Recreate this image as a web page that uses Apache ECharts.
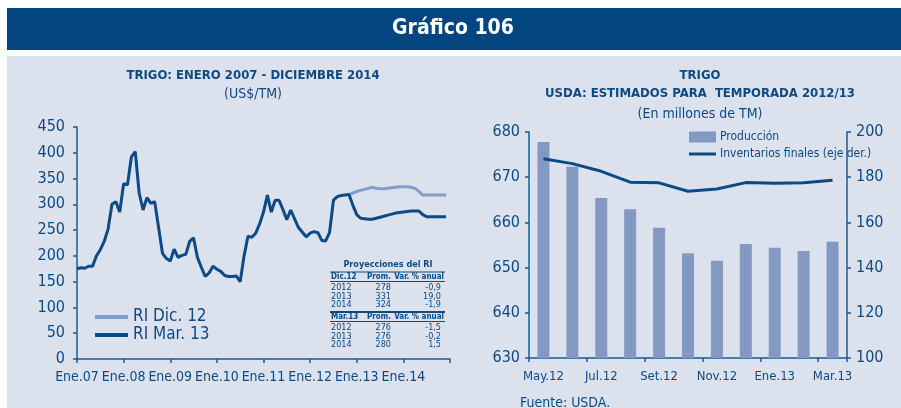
<!DOCTYPE html>
<html><head><meta charset="utf-8">
<script src="https://cdn.jsdelivr.net/npm/echarts@6/dist/echarts.min.js"></script>
<style>html,body{margin:0;padding:0;background:#fff}#c{width:901px;height:408px}</style>
</head><body><div id="c"></div>
<script>
// ---- Wheat price, monthly (index 0 = Ene.07), US$/TM ----
const yearTickLabels = ['Ene.07','Ene.08','Ene.09','Ene.10','Ene.11','Ene.12','Ene.13','Ene.14',''];
const priceHistory = [175,177,176,180,180,200,212,228,252,300,305,285,340,338,392,402,322,289,313,302,305,255,205,195,
  190,213,197,201,203,228,235,197,178,160,167,180,174,170,162,160,160,161,150,200,238,236,244,262,
  285,318,285,308,308,290,270,289,272,255,246,237,244,247,245,230,229,245,308,315,317,318,319];
const projStart = 70; // Nov.12
const projDic12 = [319,322,325,327,329,331,333,331,330,330,331,332,333,334,334,334,333,331,325,318,318,318,318,318,318,318];
const projMar13 = [319,298,280,273,272,271,271,273,275,277,279,281,283,284,285,286,287,287,287,280,276,276,276,276,276,276];

// Projection summary table
const tableDic12 = [['2012','278','-0,9'],['2013','331','19,0'],['2014','324','-1,9']];
const tableMar13 = [['2012','276','-1,5'],['2013','276','-0,2'],['2014','280','1,5']];

// ---- USDA 2012/13 estimates ----
const usdaMonths = ['May.12','Jun.12','Jul.12','Ago.12','Set.12','Oct.12','Nov.12','Dic.12','Ene.13','Feb.13','Mar.13'];
const production = [677.8,672.3,665.4,662.9,658.8,653.2,651.5,655.2,654.4,653.7,655.7];
const endingStocks = [188.2,186.0,182.6,177.8,177.5,173.8,174.8,177.6,177.3,177.5,178.7];

const DARK = '#0B4A84';
const LIGHT = '#809DCB';
const BAR = '#8399C2';
const TXT = '#0D4A82';
const BG = '#DCE1EE';
const FONT = '"DejaVu Sans Condensed","Liberation Sans Narrow","Liberation Sans",sans-serif';

const dicData = projDic12.map((v, i) => [projStart + i, v]);
const marData = priceHistory.map((v, i) => [i, v])
  .concat(projMar13.slice(1).map((v, i) => [projStart + 1 + i, v]));

// table graphic
function tableBlock(header, rows, y0) {
  const els = [];
  const t = (x, y, s, align, bold, size) => ({type:'text', x, y, style:{text:s, fill:TXT, font:(bold?'bold ':'')+size+'px '+FONT, align, verticalAlign:'middle'}});
  els.push(t(331, y0, header, 'left', true, 8), t(379, y0, 'Prom.', 'center', true, 8), t(444, y0, 'Var. % anual', 'right', true, 8));
  els.push({type:'line', shape:{x1:330, y1:y0+4.5, x2:445, y2:y0+4.5}, style:{stroke:TXT, lineWidth:1}});
  rows.forEach((r, i) => {
    const y = y0 + 10.5 + i * 8.7;
    els.push(t(331, y, r[0], 'left', false, 9), t(391, y, r[1], 'right', false, 9), t(441, y, r[2], 'right', false, 9));
  });
  return els;
}

const graphics = [
  {type:'rect', shape:{x:7, y:8, width:894, height:42}, style:{fill:'#03467F'}, z:-10},
  {type:'rect', shape:{x:7, y:56, width:894, height:352}, style:{fill:BG}, z:-10},
  {type:'text', x:453, y:29, style:{text:'Gráfico 106', fill:'#fff', font:'bold 21px '+FONT, align:'center', verticalAlign:'middle'}},
  {type:'text', x:388, y:265, style:{text:'Proyecciones del RI', fill:TXT, font:'bold 9px '+FONT, align:'center', verticalAlign:'middle'}},
  {type:'line', shape:{x1:330, y1:272, x2:445, y2:272}, style:{stroke:TXT, lineWidth:1}},
  ...tableBlock('Dic.12', tableDic12, 277),
  {type:'line', shape:{x1:330, y1:312, x2:445, y2:312}, style:{stroke:TXT, lineWidth:2}},
  ...tableBlock('Mar.13', tableMar13, 317),
  {type:'text', x:520, y:403, style:{text:'Fuente: USDA.', fill:TXT, font:'14px '+FONT, align:'left', verticalAlign:'middle'}}
];

const axisLineStyle = {lineStyle:{color:'#1D5A92', width:1.5}};
const tickStyle = {show:true, length:4, lineStyle:{color:'#1D5A92', width:1.5}};
const axisLabelStyle = {color:TXT, fontFamily:FONT, fontSize:15};

const chart = echarts.init(document.getElementById('c'), null, {renderer:'canvas'});
chart.setOption({
  animation:false,
  backgroundColor:'#fff',
  graphic: graphics,
  title:[
    {text:'TRIGO: ENERO 2007 - DICIEMBRE 2014', subtext:'(US$/TM)', left:248, top:64, textAlign:'center', itemGap:5,
     textStyle:{color:TXT, fontFamily:FONT, fontWeight:'bold', fontSize:13},
     subtextStyle:{color:TXT, fontFamily:FONT, fontSize:14}},
    {text:'TRIGO\nUSDA: ESTIMADOS PARA  TEMPORADA 2012/13', subtext:'(En millones de TM)', left:695, top:62, textAlign:'center', itemGap:4,
     textStyle:{color:TXT, fontFamily:FONT, fontWeight:'bold', fontSize:13, lineHeight:18},
     subtextStyle:{color:TXT, fontFamily:FONT, fontSize:14}}
  ],
  legend:[
    {data:['RI Dic. 12','RI Mar. 13'], left:95, top:308, padding:0, orient:'vertical', itemGap:0, itemWidth:33, itemHeight:4, icon:'rect',
     textStyle:{color:TXT, fontFamily:FONT, fontSize:17, lineHeight:18}},
    {data:['Producción'], left:689, top:131, padding:0, itemWidth:27, itemHeight:11, icon:'rect', itemGap:0,
     textStyle:{color:TXT, fontFamily:FONT, fontSize:12, padding:[0,0,0,-1]}},
    {data:['Inventarios finales (eje der.)'], left:689, top:148, padding:0, itemWidth:27, itemHeight:3, icon:'rect',
     textStyle:{color:TXT, fontFamily:FONT, fontSize:12, padding:[0,0,0,-1]}}
  ],
  grid:[
    {left:77, right:451, top:127, bottom:49},
    {left:529, right:54, top:132, bottom:50}
  ],
  xAxis:[
    {type:'value', gridIndex:0, min:0, max:96, interval:12,
     axisLine:{show:true, ...axisLineStyle}, axisTick:tickStyle, splitLine:{show:false},
     axisLabel:{...axisLabelStyle, fontSize:14, margin:11, formatter:v => yearTickLabels[v / 12] || ''}},
    {type:'category', gridIndex:1, data:usdaMonths, boundaryGap:true,
     axisLine:{show:true, ...axisLineStyle},
     axisTick:{...tickStyle, interval:1},
     axisLabel:{...axisLabelStyle, fontSize:13, interval:1, margin:12}}
  ],
  yAxis:[
    {type:'value', gridIndex:0, min:0, max:450, interval:50,
     axisLine:{show:true, ...axisLineStyle}, axisTick:tickStyle,
     splitLine:{show:false}, axisLabel:{...axisLabelStyle, fontSize:16, margin:12}},
    {type:'value', gridIndex:1, min:630, max:680, interval:10,
     axisLine:{show:true, ...axisLineStyle}, axisTick:tickStyle,
     splitLine:{show:false}, axisLabel:{...axisLabelStyle, fontSize:16, margin:9}},
    {type:'value', gridIndex:1, position:'right', min:100, max:200, interval:20,
     axisLine:{show:true, ...axisLineStyle}, axisTick:tickStyle,
     splitLine:{show:false}, axisLabel:{...axisLabelStyle, fontSize:16, margin:9}}
  ],
  series:[
    {name:'RI Dic. 12', type:'line', xAxisIndex:0, yAxisIndex:0, data:dicData, showSymbol:false,
     lineStyle:{color:LIGHT, width:3}, itemStyle:{color:LIGHT}, z:2},
    {name:'RI Mar. 13', type:'line', xAxisIndex:0, yAxisIndex:0, data:marData, showSymbol:false,
     lineStyle:{color:DARK, width:3}, itemStyle:{color:DARK}, z:3},
    {name:'Producción', type:'bar', xAxisIndex:1, yAxisIndex:1, data:production, barWidth:12,
     itemStyle:{color:BAR}},
    {name:'Inventarios finales (eje der.)', type:'line', xAxisIndex:1, yAxisIndex:2, data:endingStocks, showSymbol:false,
     lineStyle:{color:DARK, width:3}, itemStyle:{color:DARK}, z:3}
  ]
});
</script></body></html>
